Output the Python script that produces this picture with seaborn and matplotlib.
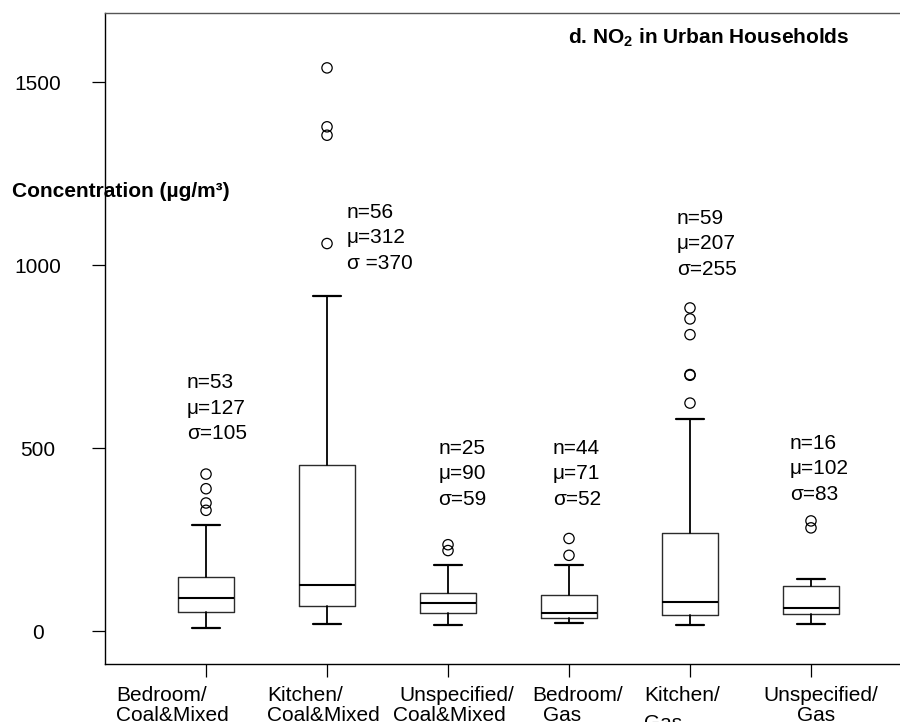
import matplotlib
matplotlib.use('Agg')
import matplotlib.pyplot as plt
import seaborn as sns
import pandas as pd

# Box summaries (ug/m3)
groups = ['Bedroom/\nCoal&Mixed', 'Kitchen/\nCoal&Mixed', 'Unspecified/\nCoal&Mixed',
          'Bedroom/\nGas', 'Kitchen/\nGas', 'Unspecified/\nGas']
whis_lo = [9, 20, 17, 21, 16, 20]
q1 = [53, 69, 50, 37, 43, 48]
med = [89, 125, 77, 49, 79, 64]
q3 = [149, 454, 103, 98, 267, 122]
whis_hi = [291, 917, 180, 180, 579, 141]
outliers = [[429, 389, 350, 330],
            [1539, 1378, 1355, 1059],
            [236, 220],
            [253, 207],
            [883, 853, 810, 701, 699, 623],
            [301, 282]]
n_obs = [53, 56, 25, 44, 59, 16]
means = [127, 312, 90, 71, 207, 102]
sds = [105, 370, 59, 52, 255, 83]
sd_labels = ['σ=105', 'σ =370', 'σ=59', 'σ=52', 'σ=255', 'σ=83']

# where the n/mu/sigma block sits (left x, baseline of first line)
stat_x = [0.843, 2.163, 2.920, 3.865, 4.890, 5.826]
stat_y = [664, 1129, 485, 485, 1113, 498]

sns.set_style('ticks')
plt.rcParams['font.family'] = ['Liberation Sans', 'DejaVu Sans']
plt.rcParams['mathtext.fontset'] = 'custom'
plt.rcParams['mathtext.rm'] = 'Liberation Sans'
plt.rcParams['mathtext.bf'] = 'Liberation Sans:bold'
plt.rcParams['text.color'] = 'black'
plt.rcParams['xtick.color'] = 'black'
plt.rcParams['ytick.color'] = 'black'
plt.rcParams['xtick.labelcolor'] = 'black'
plt.rcParams['ytick.labelcolor'] = 'black'

fig = plt.figure(figsize=(9, 7.22), dpi=100)
ax = fig.add_axes([105 / 900, 58 / 722, 800 / 900, 651 / 722])

pos = list(range(1, len(groups) + 1))
stats = []
for i in range(len(groups)):
    stats.append({'whislo': whis_lo[i], 'q1': q1[i], 'med': med[i],
                  'q3': q3[i], 'whishi': whis_hi[i], 'fliers': []})

edge = '#2b2b2b'
ax.bxp(stats, positions=pos, widths=0.46, capwidths=0.23, showfliers=False,
       boxprops=dict(color=edge, linewidth=1.0),
       medianprops=dict(color='black', linewidth=1.5),
       whiskerprops=dict(color='black', linewidth=1.3, linestyle='-'),
       capprops=dict(color='black', linewidth=1.6))

# outliers
rows = []
for i, vals in enumerate(outliers):
    for v in vals:
        rows.append({'pos': i + 1, 'value': v})
out_df = pd.DataFrame(rows)
sns.scatterplot(data=out_df, x='pos', y='value', ax=ax, marker='o', s=55,
                facecolor='none', edgecolor='black', linewidth=0.9, zorder=3)

# n / mean / sd annotations
for i in range(len(groups)):
    lines = ['n=%d' % n_obs[i], 'μ=%d' % means[i], sd_labels[i]]
    for k, line in enumerate(lines):
        ax.annotate(line, (stat_x[i], stat_y[i]), xytext=(0, -18.4 * k),
                    textcoords='offset points', ha='left', va='baseline',
                    fontsize=15, color='black')

ax.set_xlim(0.165, 6.777)
ax.set_ylim(-90, 1689)
ax.set_xticks(pos)
ax.set_xticklabels([''] * len(pos))
ax.set_yticks([0, 500, 1000, 1500])
ax.set_yticklabels(['0', '500', '1000', '1500'], fontsize=15, ha='center')
ax.tick_params(axis='both', direction='out', length=9.5, width=0.9, color='black')
ax.tick_params(axis='y', pad=39)
ax.set_xlabel('')
ax.set_ylabel('')

# two-line category labels, placed like the original
line1_x = [0.254, 1.502, 2.598, 3.694, 4.622, 5.606]
line2_x = [0.254, 1.502, 2.543, 3.788, 4.620, 5.882]
line2_y = [-0.0876, -0.0876, -0.0876, -0.0876, -0.0998, -0.0876]
trans = ax.get_xaxis_transform()
for i, g in enumerate(groups):
    top, bottom = g.split('\n')
    ax.text(line1_x[i], -0.0568, top, transform=trans, ha='left', va='baseline',
            fontsize=15, color='black', clip_on=False)
    ax.text(line2_x[i], line2_y[i], bottom, transform=trans, ha='left', va='baseline',
            fontsize=15, color='black', clip_on=False)

for side in ['left', 'bottom']:
    ax.spines[side].set_color('black')
    ax.spines[side].set_linewidth(1.0)
ax.spines['top'].set_color('#555555')
ax.spines['top'].set_linewidth(1.0)
ax.spines['right'].set_visible(False)

fig.text(568 / 900, 1 - 43.3 / 722, r'd. NO$_\mathbf{2}$ in Urban Households',
         ha='left', va='baseline', fontsize=15, fontweight='bold', color='black')
fig.text(12 / 900, 1 - 196.7 / 722, 'Concentration (µg/m³)',
         ha='left', va='baseline', fontsize=15, fontweight='bold', color='black')

fig.savefig('out.png', dpi=100)
